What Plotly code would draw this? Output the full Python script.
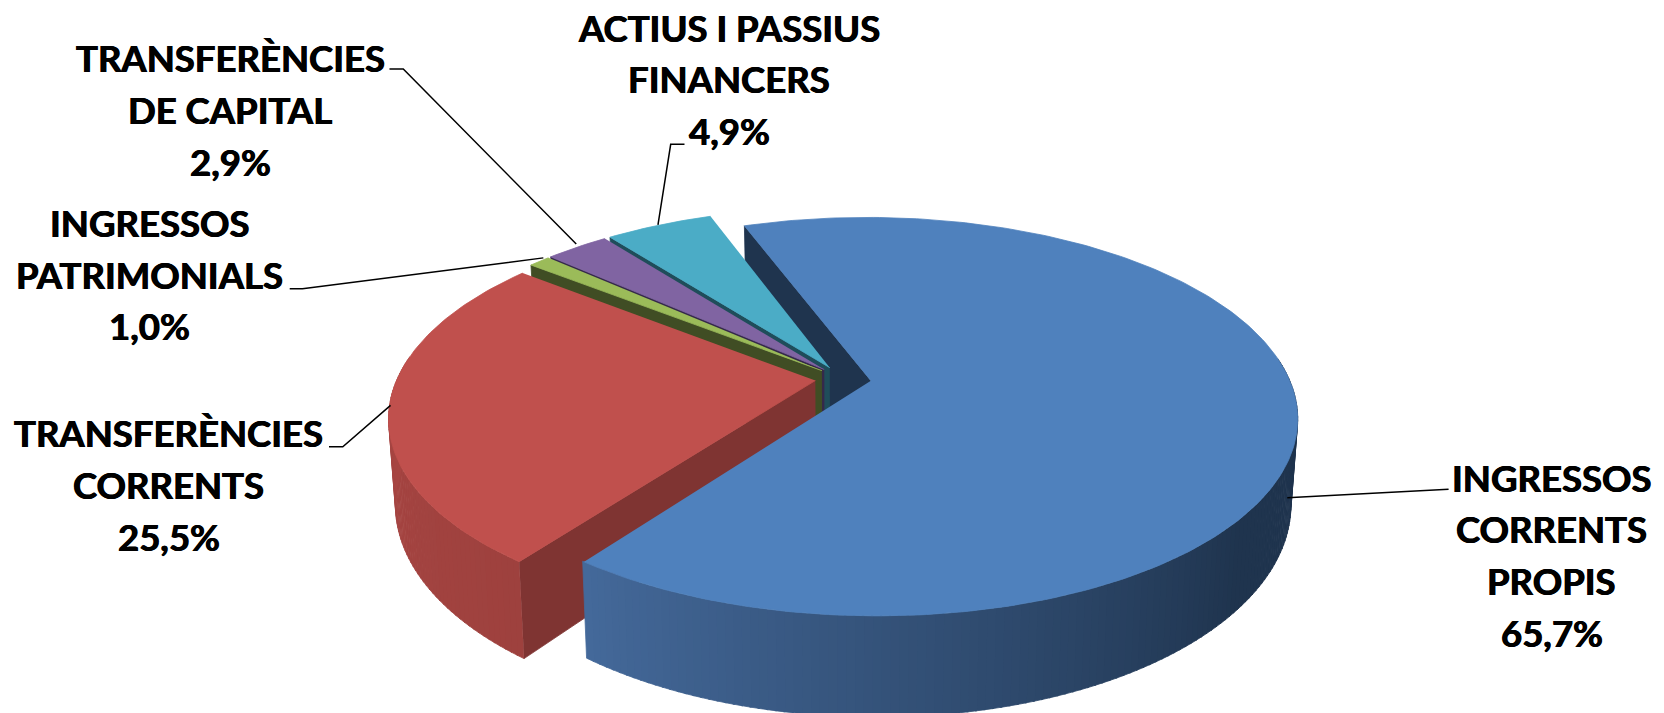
import numpy as np
import plotly.graph_objects as go

categories = ["INGRESSOS CORRENTS PROPIS", "TRANSFERÈNCIES CORRENTS", "INGRESSOS PATRIMONIALS",
              "TRANSFERÈNCIES DE CAPITAL", "ACTIUS I PASSIUS FINANCERS"]
values = [65.7, 25.5, 1.0, 2.9, 4.9]
label_lines = [["INGRESSOS", "CORRENTS", "PROPIS"], ["TRANSFERÈNCIES", "CORRENTS"],
               ["INGRESSOS", "PATRIMONIALS"], ["TRANSFERÈNCIES", "DE CAPITAL"],
               ["ACTIUS I PASSIUS", "FINANCERS"]]
top_colors = ["#4F81BD", "#C0504D", "#9BBB59", "#8064A2", "#4BACC6"]
wall_colors = ["#1F344E", "#7F3432", "#404D24", "#35294A", "#1F4D5A"]
side_near = ["#44699A", "#9E413E", "#5d7035", "#4d3c62", "#2d6777"]
side_far = ["#1F344E", "#AB4744", "#5d7035", "#4d3c62", "#2d6777"]

S = 1664 / 1568
CX, CY = 794.5 * S, 357 * S
RX, RY, H = 394 * S, 181 * S, 78 * S
K = 0.18
EXPLODE = 0.067
START_DEG = -20
BOTTOM_SHRINK = 0.985
FONT = "Lato"
FONT_SIZE = 36.5

# label centre (x, first-line y), line pitch and leader polyline, in reference pixels
label_pos = [(1462, 450), (159, 408), (141, 210), (217, 55), (687, 26)]
PITCH = 48.8
leaders = [[(1213, 469), (1365, 461)], [(310, 421), (323, 421), (368, 382)],
           [(273, 272), (285, 272), (512, 243)], [(367, 65), (380, 65), (543, 230)],
           [(645, 136), (632, 136), (620, 212)]]


def project(X, Y, depth):
    X, Y = np.asarray(X, float), np.asarray(Y, float)
    s = 1 / (1 + K * Y)
    shrink = 1 - (1 - BOTTOM_SHRINK) * depth
    return CX + RX * X * s * shrink, CY - RY * Y * s + H * depth * s


def mix(a, b, t):
    ca = [int(a[i:i + 2], 16) for i in (1, 3, 5)]
    cb = [int(b[i:i + 2], 16) for i in (1, 3, 5)]
    return "rgb(%d,%d,%d)" % tuple(round(p + (q - p) * t) for p, q in zip(ca, cb))


fig = go.Figure()


def poly(x, y, color):
    fig.add_trace(go.Scatter(x=list(x), y=list(y), mode="lines", fill="toself", fillcolor=color,
                             line=dict(color=color, width=0.8), hoverinfo="skip", showlegend=False))


cum = np.cumsum([0] + values)
ranges = [(START_DEG + 3.6 * cum[i], START_DEG + 3.6 * cum[i + 1]) for i in range(len(values))]


def slice_geom(i):
    a0, a1 = np.radians(ranges[i])
    mid = (a0 + a1) / 2
    ox, oy = EXPLODE * np.sin(mid), EXPLODE * np.cos(mid)
    n = max(6, int(np.degrees(a1 - a0)))
    return ox, oy, np.linspace(a0, a1, n + 1)


def wall(i, theta):
    ox, oy, _ = slice_geom(i)
    X = np.array([ox, ox + np.sin(theta), ox + np.sin(theta), ox])
    Y = np.array([oy, oy + np.cos(theta), oy + np.cos(theta), oy])
    x, y = project(X, Y, np.array([0, 0, 1, 1]))
    poly(x, y, wall_colors[i])


def outer(i):
    ox, oy, th = slice_geom(i)
    for j in range(len(th) - 1):
        t0, t1 = th[j], th[j + 1] + 0.004
        if np.cos((t0 + t1) / 2) > 0.12:
            continue
        X = ox + np.sin([t0, t1, t1, t0])
        Y = oy + np.cos([t0, t1, t1, t0])
        x, y = project(X, Y, np.array([0, 0, 1, 1]))
        deg = np.degrees((t0 + t1) / 2) % 360
        if i == 0:
            c = mix(side_far[i], side_near[i], np.clip((deg - 130) / (216.5 - 130), 0, 1))
        elif i == 1:
            c = mix(side_near[i], side_far[i], np.clip((deg - 216.5) / 70, 0, 1))
        else:
            c = side_near[i]
        poly(x, y, c)


def top(i):
    ox, oy, th = slice_geom(i)
    X = np.r_[ox, ox + np.sin(th)]
    Y = np.r_[oy, oy + np.cos(th)]
    x, y = project(X, Y, np.zeros(len(X)))
    poly(x, y, top_colors[i])


# painter's order: back wall of the big slice, small slices back to front, red, big slice front
wall(0, np.radians(ranges[0][0]))
for idx in (4, 3, 2):
    wall(idx, np.radians(ranges[idx][0]))
    top(idx)
wall(1, np.radians(ranges[1][0]))
outer(1)
top(1)
outer(0)
top(0)

annotations = []
for i, lines in enumerate(label_lines):
    txt = lines + [f"{values[i]:.1f}%".replace(".", ",")]
    lx, ly = label_pos[i]
    for j, line in enumerate(txt):
        annotations.append(dict(x=lx * S, y=(ly + PITCH * j) * S, text=f"<b>{line}</b>", showarrow=False,
                                xanchor="center", yanchor="middle",
                                font=dict(family=FONT, size=FONT_SIZE, color="#000000",
                                          shadow="0.5px 0 0 #000, -0.5px 0 0 #000")))
    xs, ys = zip(*leaders[i])
    fig.add_trace(go.Scatter(x=[v * S for v in xs], y=[v * S for v in ys], mode="lines",
                             line=dict(color="#000000", width=1.5), hoverinfo="skip", showlegend=False))

fig.update_layout(width=1664, height=713, margin=dict(l=0, r=0, t=0, b=0), autosize=False,
                  paper_bgcolor="#FFFFFF", plot_bgcolor="#FFFFFF", showlegend=False,
                  xaxis=dict(range=[0, 1664], visible=False, fixedrange=True),
                  yaxis=dict(range=[713, 0], visible=False, fixedrange=True),
                  annotations=annotations)
fig.write_html("out.html", config=dict(displayModeBar=False),
               post_script="document.body.style.margin='0';document.body.style.overflow='hidden';")
